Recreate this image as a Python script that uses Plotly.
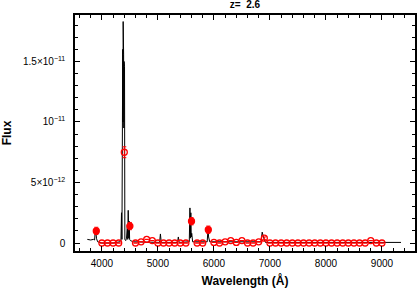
import plotly.graph_objects as go

# ---- data (flux in units of 1e-12) ----
spec_wave = [3740, 3800, 3850, 3870, 3885, 3895, 3905, 3925, 4000, 4200, 4320, 4340, 4350,
             4358, 4364, 4368, 4372, 4376, 4380, 4384, 4388, 4392, 4396, 4400, 4404, 4410,
             4425, 4440, 4455, 4462,
             4470, 4480, 4488, 4495, 4510, 4560, 4800, 5030, 5045, 5060, 5350, 5365, 5380,
             5560, 5572, 5580, 5588, 5596, 5604, 5620, 5880, 5895, 5905, 5925, 6840, 6862,
             6875, 6890, 6920, 9340]
spec_flux = [0.3, 0.25, 0.3, 0.25, 1.2, 0.6, 0.35, 0.1, 0.0, 0.0, 0.1, 0.2, 2.5,
             0.3, 15.8, 9.0, 16.0, 10.0, 18.3, 10.5, 15.6, 9.5, 15.0, 9.6, 14.6, 0.3,
             0.2, 0.4, 1.5, 0.3,
             2.7, 0.4, 1.8, 0.3, 0.2, 0.1, 0.05, 0.05, 0.75, 0.05, 0.05, 0.5, 0.05,
             0.1, 2.9, 0.4, 2.5, 0.5, 0.8, 0.1, 0.1, 1.2, 0.5, 0.1, 0.1, 0.9,
             0.5, 0.4, 0.05, 0.05]

phot_wave = list(range(3900, 9001, 100))
phot_flux = [1.0, 0, 0, 0, 0, 7.5, 1.4, 0, 0.1, 0.3, 0.2, 0, 0, 0, 0, 0, 0,
             1.8, 0, 0, 1.1, 0.05, 0, 0.1, 0.2, 0.05, 0.2, 0, 0, 0.1, 0.4,
             0, 0, 0, 0, 0, 0, 0, 0, 0, 0, 0, 0, 0, 0, 0, 0, 0, 0, 0.2, 0, 0]
phot_err = [0.3, 0, 0, 0, 0, 0.45, 0.3, 0, 0, 0, 0, 0, 0, 0, 0, 0, 0,
            0.3, 0, 0, 0.3, 0, 0, 0, 0, 0, 0, 0, 0, 0, 0.1,
            0, 0, 0, 0, 0, 0, 0, 0, 0, 0, 0, 0, 0, 0, 0, 0, 0, 0, 0, 0, 0]

ytick_vals = [0, 5, 10, 15]
ytick_text = ["0", "5×10<sup>−12</sup>", "10<sup>−11</sup>", "1.5×10<sup>−11</sup>"]
xtick_vals = [4000, 5000, 6000, 7000, 8000, 9000]

S = 1e-12
symbols = ["circle" if (f >= 1.0 and f < 5) else "circle-open" for f in phot_flux]

fig = go.Figure()
fig.add_trace(go.Scatter(
    x=spec_wave, y=[v * S for v in spec_flux], mode="lines",
    line=dict(color="black", width=1), showlegend=False))
fig.add_trace(go.Scatter(
    x=phot_wave, y=[v * S for v in phot_flux], mode="markers",
    marker=dict(symbol=symbols, size=6, color="red", line=dict(color="red", width=1.3)),
    error_y=dict(type="data", array=[e * S for e in phot_err], color="red",
                 thickness=1, width=2),
    showlegend=False))

font = dict(family="Liberation Sans, Arial, sans-serif", size=10, color="black")
fig.update_layout(
    width=417, height=288,
    margin=dict(l=75, r=2, t=15, b=37, autoexpand=False),
    paper_bgcolor="white", plot_bgcolor="white",
    font=font,
    title=dict(text="<b>z=  2.6</b>", x=0.5875, xanchor="center", y=0.995, yanchor="top",
               font=dict(family="Liberation Sans, Arial, sans-serif", size=10)),
    xaxis=dict(range=[3520, 9590], tickvals=xtick_vals, ticks="inside", ticklen=5,
               tickwidth=1, tickcolor="black", showline=True, linecolor="black",
               linewidth=1.5, mirror="allticks", showgrid=False, zeroline=False,
               automargin=False, ticklabelstandoff=2,
               minor=dict(ticks="inside", dtick=200, ticklen=3, tickcolor="black", tickwidth=1),
               title=dict(text="<b>Wavelength (Å)</b>", standoff=9),
               tickfont=dict(size=10)),
    yaxis=dict(range=[-0.66e-12, 18.84e-12], tickvals=[v * S for v in ytick_vals],
               ticktext=ytick_text, ticks="inside", ticklen=5, tickwidth=1,
               tickcolor="black", showline=True, linecolor="black", linewidth=1.5,
               mirror="allticks", showgrid=False, zeroline=False,
               automargin=False, ticklabelstandoff=6,
               minor=dict(ticks="inside", dtick=1e-12, ticklen=3, tickcolor="black", tickwidth=1),
               title=dict(text="<b>Flux</b>", standoff=16),
               tickfont=dict(size=10)),
)
fig.write_html("out.html", config={"displayModeBar": False},
               post_script="document.body.style.margin='0';document.body.style.padding='0';")
